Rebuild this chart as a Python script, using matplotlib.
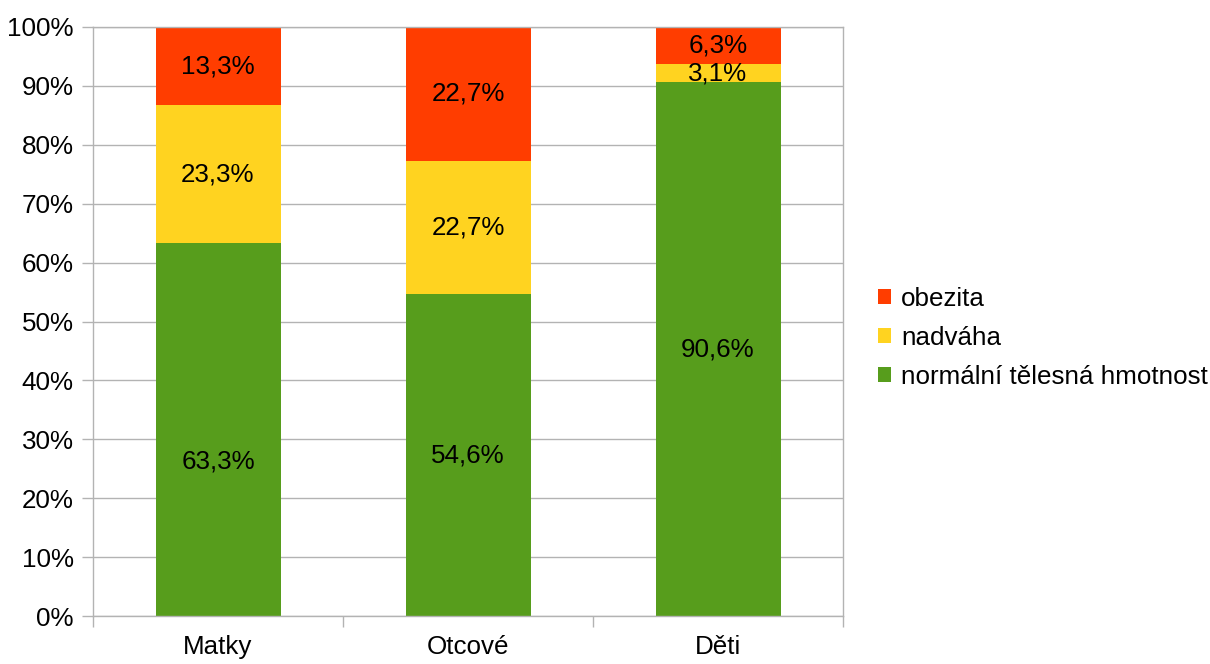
import matplotlib
matplotlib.use("Agg")
import matplotlib.pyplot as plt
from matplotlib.patches import Patch
import numpy as np

plt.rcParams['font.family'] = ['Liberation Sans', 'DejaVu Sans']

categories = ["Matky", "Otcové", "Děti"]
normalni = [63.3, 54.6, 90.6]
nadvaha = [23.3, 22.7, 3.1]
obezita = [13.3, 22.7, 6.3]

series = [
    ("normální tělesná hmotnost", normalni, "#579d1c"),
    ("nadváha", nadvaha, "#ffd320"),
    ("obezita", obezita, "#ff3d00"),
]

# vertical nudge (in % units) for individual value labels
label_nudge = {("normální tělesná hmotnost", 0): -5.5}

FS = 18.7

fig = plt.figure(figsize=(12.10, 6.64), dpi=100)
ax = fig.add_axes([93 / 1210, 48 / 664, 750 / 1210, 589 / 664])

totals = np.array(normalni) + np.array(nadvaha) + np.array(obezita)
x = np.arange(len(categories))
bottom = np.zeros(len(categories))
for name, vals, color in series:
    share = np.array(vals) / totals * 100
    ax.bar(x, share, 0.5, bottom=bottom, color=color, zorder=2)
    for i, (xi, b, s, v) in enumerate(zip(x, bottom, share, vals)):
        y = b + s / 2 + label_nudge.get((name, i), 0.0)
        ax.text(xi, y, f"{v:.1f}%".replace(".", ","), ha="center",
                va="center", fontsize=FS, color="black", zorder=3)
    bottom += share

ax.set_xlim(-0.5, len(categories) - 0.5)
ax.set_ylim(0, 100)
ax.set_yticks(np.arange(0, 101, 10))
ax.set_yticklabels([f"{v}%" for v in range(0, 101, 10)], fontsize=FS)
ax.yaxis.grid(True, color="#b3b3b3", linewidth=1, zorder=0)

ax.set_xticks(np.arange(-0.5, len(categories), 1.0))
ax.set_xticklabels([])
ax.set_xticks(x, minor=True)
ax.set_xticklabels(categories, minor=True, fontsize=FS)
ax.tick_params(axis="x", which="major", length=8, color="#b3b3b3", width=1)
ax.tick_params(axis="x", which="minor", length=0, pad=14)
ax.tick_params(axis="y", length=8, color="#b3b3b3", width=1, pad=6)

for sp in ax.spines.values():
    sp.set_color("#b3b3b3")
    sp.set_linewidth(1)

handles = [Patch(facecolor=c, label=n) for n, _, c in reversed(series)]
fig.legend(handles=handles, loc="center left", bbox_to_anchor=(878 / 1210, 1 - 338 / 664),
           frameon=False, fontsize=FS, handlelength=0.5, handleheight=0.5,
           handletextpad=0.4, labelspacing=0.58, borderaxespad=0, borderpad=0)

fig.savefig("out.png", dpi=100)
